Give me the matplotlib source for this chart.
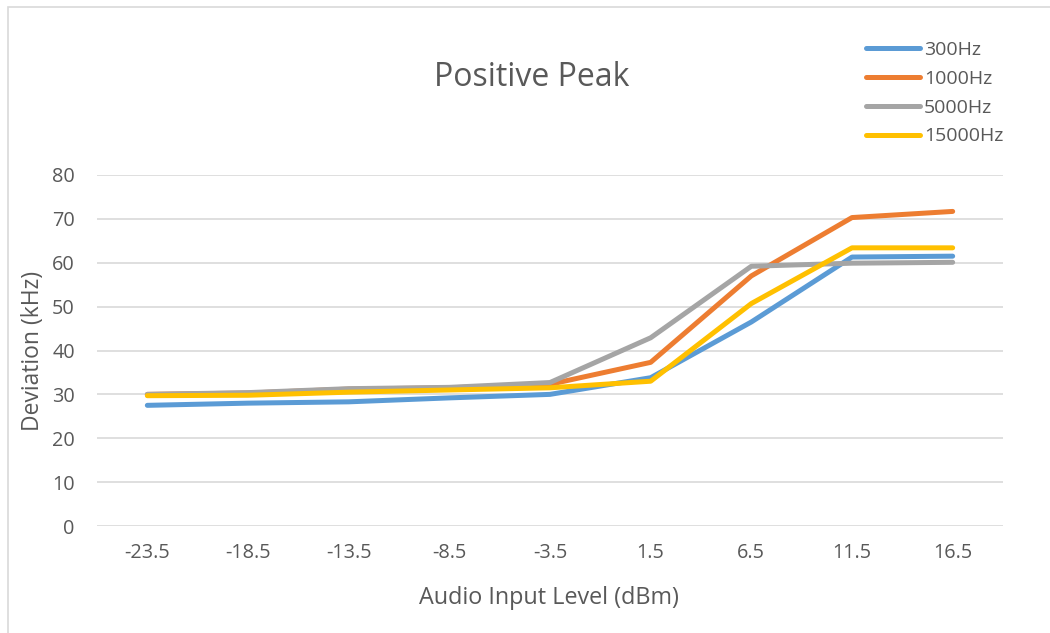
import matplotlib
matplotlib.use("Agg")
import matplotlib.pyplot as plt
from matplotlib.patches import Rectangle

categories = ["-23.5", "-18.5", "-13.5", "-8.5", "-3.5", "1.5", "6.5", "11.5", "16.5"]
s300 = [27.5, 28.0, 28.3, 29.2, 30.0, 33.8, 46.5, 61.3, 61.5]
s1000 = [30.0, 30.3, 31.2, 31.5, 32.3, 37.3, 57.0, 70.3, 71.7]
s5000 = [30.0, 30.4, 31.3, 31.6, 32.7, 42.9, 59.2, 59.9, 60.1]
s15000 = [29.7, 29.8, 30.5, 31.0, 31.5, 33.0, 50.7, 63.4, 63.4]
series_names = ["300Hz", "1000Hz", "5000Hz", "15000Hz"]
colors = ["#5B9BD5", "#ED7D31", "#A5A5A5", "#FFC000"]
yticks = [0, 10, 20, 30, 40, 50, 60, 70, 80]

plt.rcParams['font.family'] = ['Open Sans', 'DejaVu Sans']
W, H = 1050, 633
fig = plt.figure(figsize=(W / 100, H / 100), dpi=100)
fig.patch.set_facecolor("white")
# outer chart border
fig.patches.append(Rectangle((8 / W, -0.1), 1.2, 1 - 7 / H + 0.1, transform=fig.transFigure,
                             fill=False, edgecolor="#D9D9D9", linewidth=1.2))

ax = fig.add_axes([97 / W, 1 - 526 / H, (1003 - 97) / W, (526 - 175) / H])
x = list(range(len(categories)))
handles = []
for vals, name, c in zip([s300, s1000, s5000, s15000], series_names, colors):
    h, = ax.plot(x, vals, color=c, linewidth=3.6, solid_capstyle="round", solid_joinstyle="round", label=name)
    handles.append(h)

ax.set_xlim(-0.5, len(categories) - 0.5)
ax.set_ylim(0, 80)
ax.set_yticks(yticks)
ax.set_xticks(x)
ax.set_xticklabels(categories)
ax.grid(axis="y", color="#D9D9D9", linewidth=1.2)
ax.set_axisbelow(True)
for sp in ax.spines.values():
    sp.set_visible(False)
ax.tick_params(axis="both", length=0, colors="#595959", labelsize=14.3)
ax.tick_params(axis="y", pad=16)
ax.tick_params(axis="x", pad=12)

fig.text(532 / W, 1 - 78 / H, "Positive Peak", ha="center", va="center", fontsize=23, color="#595959")
fig.text(549 / W, 1 - 598 / H, "Audio Input Level (dBm)", ha="center", va="center", fontsize=16.8, color="#595959")
fig.text(33 / W, 1 - 351 / H, "Deviation (kHz)", ha="center", va="center", rotation=90, fontsize=16.5, color="#595959")

leg = fig.legend(handles=handles, loc="upper left", bbox_to_anchor=(858 / W, 1 - 33 / H),
                 frameon=False, fontsize=14, labelcolor="#595959", handlelength=2.8,
                 handletextpad=0.2, labelspacing=0.56, borderaxespad=0)

fig.savefig("out.png", dpi=100, facecolor="white")
